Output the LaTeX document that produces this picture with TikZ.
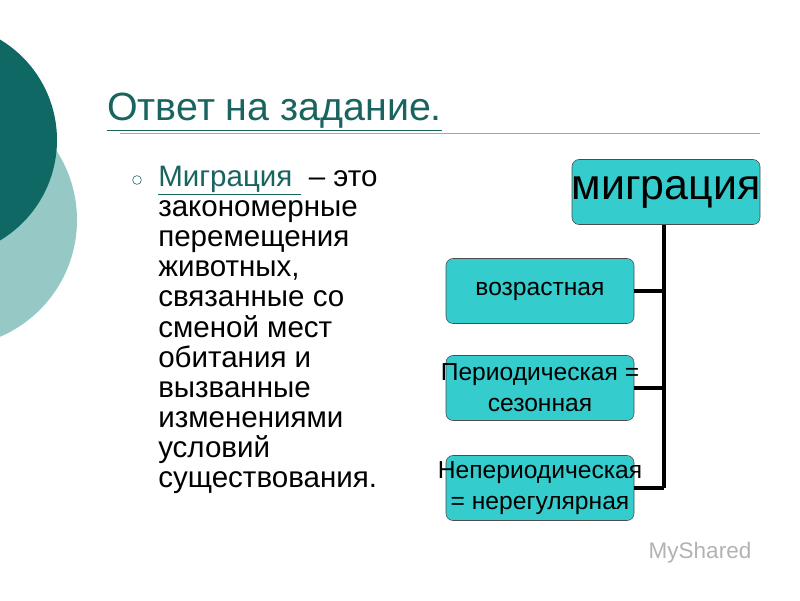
\documentclass[tikz,border=0pt]{standalone}
\usepackage{fontspec}
\setmainfont{Liberation Sans}
\usepackage{tikz}
\definecolor{darkteal}{RGB}{16,104,100}
\definecolor{lightteal}{RGB}{150,200,198}
\definecolor{boxfill}{RGB}{52,204,204}
\definecolor{titleteal}{RGB}{26,100,96}
\newcommand{\wide}[1]{\makebox[0pt]{#1}}

\begin{document}
\begin{tikzpicture}[x=0.025cm,y=-0.025cm,
  kind/.style={draw=black!70,fill=boxfill,rounded corners=5pt,minimum width=188*0.025cm,minimum height=65*0.025cm,align=center,font=\fontsize{17.5}{22}\selectfont,inner sep=0pt},
  tree/.style={line width=3pt}]
\useasboundingbox (0,0) rectangle (800,600);
\fill[lightteal] (-50,220) circle (127);
\fill[darkteal] (-60,140) circle (117);
\node[anchor=base west,text=titleteal,font=\fontsize{28}{32}\selectfont,inner sep=0] (title) at (107,120) {\underline{Ответ на задание.}};
\draw[gray!70] (120,133) -- (760,133);
\node[draw=titleteal,circle,inner sep=2.2pt] (bul) at (137,180) {};
\node[anchor=north west,align=left,inner sep=0,font=\fontsize{21}{21.4}\selectfont] (text) at (158,166)
  {\textcolor{titleteal}{\underline{Миграция }} – это\\ закономерные\\ перемещения\\ животных,\\ связанные со\\ сменой мест\\ обитания и\\ вызванные\\ изменениями\\ условий\\ существования.};
\node[kind,font=\fontsize{30.5}{32}\selectfont] (mig) at (666,192) {\wide{миграция}};
\node[kind] (age) at (540,291) {возрастная};
\node[kind] (per) at (540,388) {\wide{Периодическая =}\\ сезонная};
\node[kind] (nonper) at (540,488) {\wide{Непериодическая}\\ = нерегулярная};
\coordinate (t1) at (664,291);
\coordinate (t2) at (664,388);
\coordinate (t3) at (664,488);
\draw[tree] (mig.south -| t1) -- (t3);
\draw[tree] (age.east) -- (t1);
\draw[tree] (per.east) -- (t2);
\draw[tree] (nonper.east) -- (t3);
\node[text=gray!60,font=\fontsize{16}{18}\selectfont] (mark) at (700,553) {MyShared};
\end{tikzpicture}
\end{document}
